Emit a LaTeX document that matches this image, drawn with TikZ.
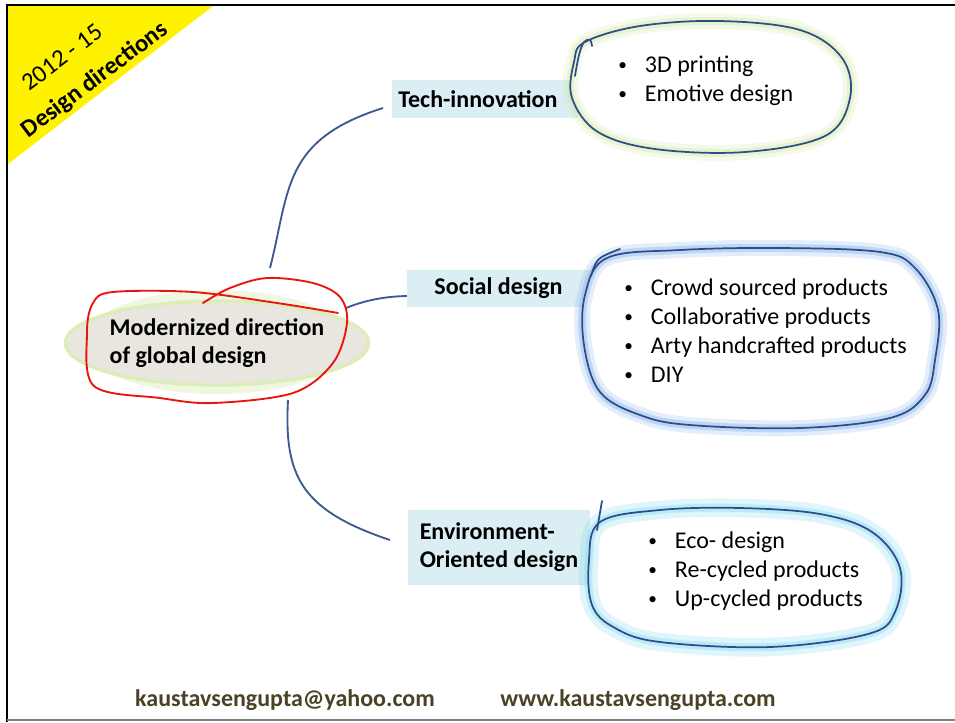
\documentclass[tikz,border=0pt]{standalone}
\usepackage{fontspec}
\setmainfont{Carlito}
\usetikzlibrary{shapes.geometric}
\definecolor{lblue}{HTML}{DAEEF3}
\definecolor{connblue}{HTML}{3D5A91}
\definecolor{loopblue}{HTML}{2E4C8A}
\definecolor{maingray}{HTML}{E8E6DF}
\definecolor{glowgreen}{HTML}{D3E8A6}
\definecolor{glowblue}{HTML}{86B2EC}
\definecolor{glowcyan}{HTML}{84DAF2}
\definecolor{footcol}{HTML}{4A4225}
\definecolor{redloop}{HTML}{E8150F}
\newcommand{\itemdot}{\makebox[20pt][l]{\raisebox{0.15ex}{\fontsize{13}{13}\selectfont •}}}
\begin{document}
\begin{tikzpicture}[x=0.75pt,y=-0.75pt,
  txt/.style={font=\fontsize{18}{21.75}\selectfont},
  lbl/.style={fill=lblue, inner sep=0, font=\bfseries\fontsize{18}{21}\selectfont},
  items/.style={txt, align=left, anchor=west, inner sep=0},
  conn/.style={draw=connblue, line width=1.4pt},
  outline/.style={draw=loopblue, line width=1.3pt, line cap=round, line join=round},
  glowA/.style={line width=12pt, opacity=0.22},
  glowB/.style={line width=6pt, opacity=0.4}]
\useasboundingbox (0,0) rectangle (955,722);
% frame
\draw[black, line width=2.2pt] (7,722) -- (7,5) -- (955,5);
\draw[gray, line width=1.5pt] (7,720) -- (955,720);
% yellow corner
\fill[yellow] (8,6) -- (213,6) -- (8,164) -- cycle;
\node[rotate=37, font=\fontsize{18.5}{22}\selectfont, inner sep=0] (yr) at (62,57) {2012 - 15};
\node[rotate=37, font=\bfseries\fontsize{18.5}{22}\selectfont, inner sep=0] (dd) at (95,80) {Design directions};

% connector anchors
\coordinate (c1s) at (270,268);
\coordinate (c1e) at (383,108);
\coordinate (c2s) at (346,308);
\coordinate (c2e) at (410,296);
\coordinate (c3s) at (288,400);
\coordinate (c3e) at (390,540);
\draw[conn] (c1s) .. controls (290,190) and (282,140) .. (c1e);
\draw[conn] (c2s) .. controls (368,299) and (390,296) .. (c2e);
\draw[conn] (c3s) .. controls (284,475) and (300,510) .. (c3e);

% main node
\node[ellipse, draw=glowgreen, opacity=0.35, line width=9pt, minimum width=190pt, minimum height=69pt] (mainglow) at (217,342) {};
\node[ellipse, fill=maingray, draw=glowgreen!80, line width=2.5pt, minimum width=184.5pt, minimum height=63pt, inner sep=0,
  align=left, font=\bfseries\fontsize{18}{21}\selectfont] (main) at (217,343) {Modernized direction\\of global design};
\draw[redloop, line width=1.4pt, line join=round, line cap=round] plot[smooth, tension=0.55] coordinates {
 (203,303) (230,288) (267,278) (313,283) (340,297) (347,323) (333,363) (293,393) (213,403) (160,398) (94,386) (87,333) (93,303) (113,292) (193,292) (277,303) (338,313)};

% labels
\node[lbl, minimum width=139.5pt, minimum height=28.5pt, text width=130pt, align=left] (tech) at (485,99) {Tech-innovation};
\node[lbl, minimum width=137.25pt, minimum height=27.75pt, align=center] (social) at (498.5,288.5) {Social design};
\node[lbl, minimum width=136.5pt, minimum height=56.25pt, align=left] (env) at (499,547.5) {Environment-\\Oriented design};

% top bubble
\def\bubA{plot[smooth cycle, tension=0.6] coordinates {(585,42) (640,26) (720,21) (800,30) (842,58) (850,98) (825,136) (745,152) (655,149) (598,132) (572,98) (574,62)}}
\fill[white] \bubA;
\draw[glowgreen, glowA] \bubA;
\draw[glowgreen, glowB] \bubA;
\draw[outline] \bubA;
\draw[outline] plot[smooth, tension=0.6] coordinates {(575,76) (579,55) (584,42) (590,40) (592,46)};
\node[items] (bt) at (618,80.5) {\itemdot 3D printing\\\itemdot Emotive design};

% middle bubble
\def\bubB{plot[smooth cycle, tension=0.6] coordinates {(607,258) (680,250) (780,248) (880,252) (915,268) (938,310) (935,360) (925,395) (890,418) (800,428) (690,425) (640,415) (600,392) (584,345) (585,295)}}
\fill[white] \bubB;
\draw[glowblue, glowA] \bubB;
\draw[glowblue, glowB] \bubB;
\draw[outline] \bubB;
\draw[outline] plot[smooth, tension=0.6] coordinates {(591,276) (599,259) (620,249)};
\node[items] (bm) at (624,330.5) {\itemdot Crowd sourced products\\\itemdot Collaborative products\\\itemdot Arty handcrafted products\\\itemdot DIY};

% bottom bubble
\def\bubC{plot[smooth cycle, tension=0.6] coordinates {(600,522) (660,510) (740,508) (820,514) (872,532) (900,568) (895,612) (868,634) (770,647) (660,642) (615,628) (592,605) (589,560)}}
\fill[white] \bubC;
\draw[glowcyan, line width=14pt, opacity=0.25] \bubC;
\draw[glowcyan, glowB] \bubC;
\draw[outline] \bubC;
\draw[outline] (602,501) -- (597,530);
\node[items] (bb) at (648,571) {\itemdot Eco- design\\\itemdot Re-cycled products\\\itemdot Up-cycled products};

% footer
\node[font=\bfseries\fontsize{18}{20}\selectfont, text=footcol, inner sep=0] (mail) at (285,700) {kaustavsengupta@yahoo.com};
\node[font=\bfseries\fontsize{18}{20}\selectfont, text=footcol, inner sep=0] (web) at (638,700) {www.kaustavsengupta.com};
\end{tikzpicture}
\end{document}
